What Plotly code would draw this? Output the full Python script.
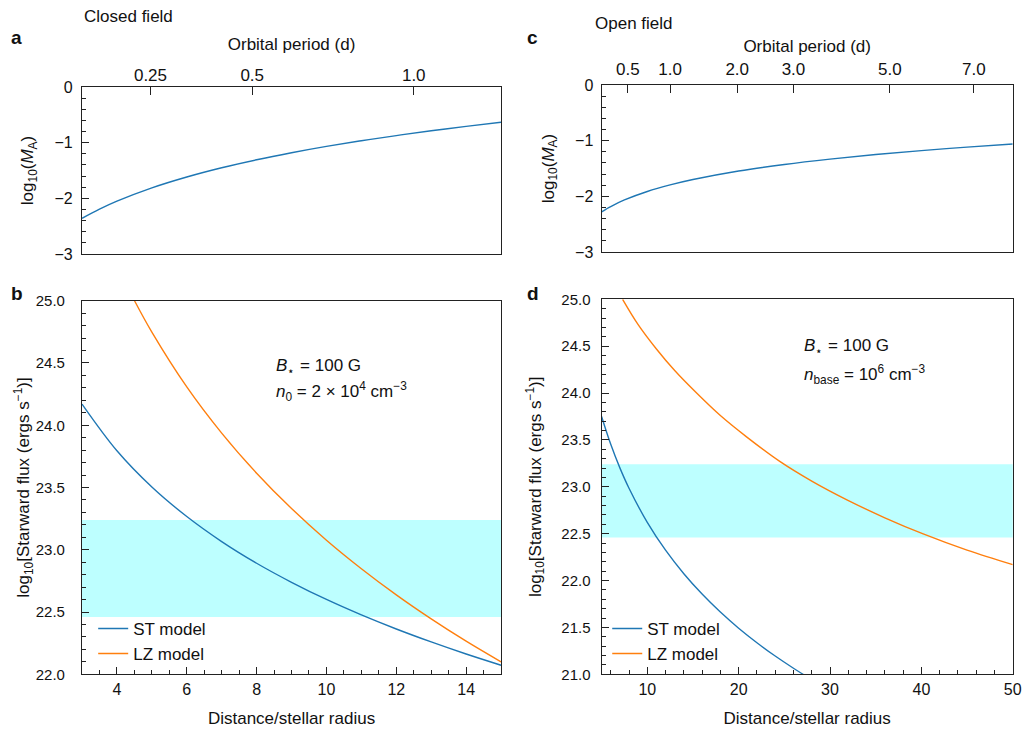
import plotly.graph_objects as go

# ---------------- data ----------------
# Panel a: closed field, log10(M_A) vs distance (stellar radii)
dist_a = [3, 3.5, 4, 5, 6, 7, 8, 9, 10, 11, 12, 13, 14, 15]
logMA_a = [-2.360, -2.195, -2.051, -1.812, -1.617, -1.451, -1.308, -1.182, -1.068,
           -0.966, -0.873, -0.787, -0.708, -0.634]
period_ticks_a = [0.25, 0.5, 1.0]
period_labels_a = ["0.25", "0.5", "1.0"]

# Panel c: open field, log10(M_A) vs distance
dist_c = [5, 5.5, 6, 7.5, 10, 12.5, 15, 20, 25, 30, 35, 40, 45, 50]
logMA_c = [-2.280, -2.229, -2.183, -2.065, -1.913, -1.795, -1.698, -1.545, -1.427,
           -1.331, -1.249, -1.178, -1.116, -1.060]
period_ticks_c = [0.5, 1.0, 2.0, 3.0, 5.0, 7.0]
period_labels_c = ["0.5", "1.0", "2.0", "3.0", "5.0", "7.0"]

# distance (stellar radii) of a 1-day orbit; Kepler: d ∝ P^(2/3)
DIST_1DAY = 12.5

# Panel b: closed field starward flux
dist_b_st = [3, 4, 5, 6, 7, 8, 9, 10, 11, 12, 13, 14, 15]
flux_b_st = [24.170, 23.795, 23.504, 23.267, 23.066, 22.892, 22.739, 22.601, 22.477,
             22.364, 22.260, 22.163, 22.073]
dist_b_lz = [4.5, 5, 6, 7, 8, 9, 10, 11, 12, 13, 14, 15]
flux_b_lz = [25.002, 24.748, 24.308, 23.937, 23.615, 23.331, 23.077, 22.848, 22.638,
             22.445, 22.266, 22.100]

# Panel d: open field starward flux
dist_d_st = [5, 6, 7, 8, 10, 12, 14, 16, 18, 20, 22, 24, 26, 28]
flux_d_st = [23.750, 23.453, 23.202, 22.985, 22.621, 22.324, 22.073, 21.856, 21.664,
             21.492, 21.337, 21.195, 21.065, 20.944]
dist_d_lz = [7.3, 9, 11, 13, 15.4, 18, 20.9, 24.5, 28, 31.85, 36, 40.2, 45, 50]
flux_d_lz = [25.0, 24.73, 24.47, 24.24, 24.0, 23.76, 23.53, 23.271, 23.061, 22.861,
             22.670, 22.498, 22.325, 22.170]

# Observed flux band
band_low, band_high = 22.46, 23.24

# ---------------- styling ----------------
BLUE = "#1f77b4"
ORANGE = "#ff7f0e"
BAND = "#bdffff"
FONT = "Liberation Sans, Arial, Helvetica, sans-serif"
AXC = "#222222"
TXT = "#111111"
LW = 1.4

fig = go.Figure()

def line(x, y, xa, ya, color, name=None, legend=None, show=False):
    fig.add_trace(go.Scatter(
        x=x, y=y, xaxis=xa, yaxis=ya, mode="lines",
        line=dict(color=color, width=LW, shape="spline", smoothing=1.0),
        name=name, showlegend=show, legend=legend, hoverinfo="skip"))

line(dist_a, logMA_a, "x", "y", BLUE)
line(dist_c, logMA_c, "x2", "y2", BLUE)
line(dist_b_st, flux_b_st, "x3", "y3", BLUE, "ST model", "legend", True)
line(dist_b_lz, flux_b_lz, "x3", "y3", ORANGE, "LZ model", "legend", True)
line(dist_d_st, flux_d_st, "x4", "y4", BLUE, "ST model", "legend2", True)
line(dist_d_lz, flux_d_lz, "x4", "y4", ORANGE, "LZ model", "legend2", True)

for xr, yr in (("x3 domain", "y3"), ("x4 domain", "y4")):
    fig.add_shape(type="rect", xref=xr, yref=yr, x0=0, x1=1, y0=band_low, y1=band_high,
                  fillcolor=BAND, line=dict(width=0), layer="below")

xa_dom = [0.0801, 0.4893]
xc_dom = [0.5875, 0.9890]
ya_dom = [0.6516, 0.8807]
yc_dom = [0.6543, 0.8834]
yb_dom = [0.0750, 0.5875]
yd_dom = [0.0750, 0.5894]

def common(size):
    return dict(showline=True, linecolor=AXC, linewidth=1.2, mirror=True, ticks="inside",
                tickcolor=AXC, tickwidth=1.1, showgrid=False, zeroline=False,
                automargin=False, tickfont=dict(family=FONT, size=size, color=TXT))

def title(t, standoff):
    return dict(text=t, font=dict(family=FONT, size=17, color=TXT), standoff=standoff)

def minor(d):
    return dict(dtick=d, ticks="inside", ticklen=4, tickcolor=AXC, tickwidth=1)

MA_TITLE = "log<sub>10</sub>(<i>M</i><sub>A</sub>)"
FLUX_TITLE = "log<sub>10</sub>[Starward flux (ergs s<sup>−1</sup>)]"

fig.update_layout(
    width=1024, height=729, margin=dict(l=0, r=0, t=0, b=0),
    paper_bgcolor="white", plot_bgcolor="white",
    font=dict(family=FONT, color=TXT),
    xaxis=dict(domain=xa_dom, anchor="y", side="top", range=[3, 15],
               tickvals=[DIST_1DAY * p ** (2 / 3) for p in period_ticks_a],
               ticktext=period_labels_a, ticklen=8, ticklabelstandoff=-2,
               title=title("Orbital period (d)", 11), **common(17)),
    yaxis=dict(domain=ya_dom, anchor="x", range=[-3, 0], dtick=1, ticklen=7,
               minor=minor(0.2), title=title(MA_TITLE, 16),
               ticklabelstandoff=5, **common(16)),
    xaxis2=dict(domain=xc_dom, anchor="y2", side="top", range=[5, 50],
                tickvals=[DIST_1DAY * p ** (2 / 3) for p in period_ticks_c],
                ticktext=period_labels_c, ticklen=8, ticklabelstandoff=2,
                title=title("Orbital period (d)", 3), **common(17)),
    yaxis2=dict(domain=yc_dom, anchor="x2", range=[-3, 0], dtick=1, ticklen=7,
                minor=minor(0.2), title=title(MA_TITLE, 16),
                ticklabelstandoff=4, **common(16)),
    xaxis3=dict(domain=xa_dom, anchor="y3", range=[3, 15], tick0=0, dtick=2, ticklen=7,
                minor=minor(0.5), title=title("Distance/stellar radius", 15),
                ticklabelstandoff=0, **common(16)),
    yaxis3=dict(domain=yb_dom, anchor="x3", range=[22, 25], dtick=0.5, tickformat=".1f", ticklen=7,
                minor=minor(0.1), title=title(FLUX_TITLE, 0),
                ticklabelstandoff=13, **common(15)),
    xaxis4=dict(domain=xc_dom, anchor="y4", range=[5, 50], tick0=0, dtick=10, ticklen=7,
                minor=minor(2), title=title("Distance/stellar radius", 15),
                ticklabelstandoff=0, **common(16)),
    yaxis4=dict(domain=yd_dom, anchor="x4", range=[21, 25], dtick=0.5, tickformat=".1f", ticklen=7,
                minor=minor(0.1), title=title(FLUX_TITLE, 15),
                ticklabelstandoff=7, **common(15)),
    legend=dict(x=0.091, y=0.162, xanchor="left", yanchor="top", bgcolor="rgba(0,0,0,0)",
                font=dict(family=FONT, size=17, color=TXT), tracegroupgap=0, itemwidth=30),
    legend2=dict(x=0.593, y=0.162, xanchor="left", yanchor="top", bgcolor="rgba(0,0,0,0)",
                 font=dict(family=FONT, size=17, color=TXT), tracegroupgap=0, itemwidth=30),
)

def note(text, x, y, size=17, bold=False, xanchor="left"):
    fig.add_annotation(text=f"<b>{text}</b>" if bold else text, x=x, y=y, xref="paper", yref="paper",
                       xanchor=xanchor, yanchor="middle", showarrow=False,
                       font=dict(family=FONT, size=size, color=TXT))

note("a", 0.0166, 0.9486, 19, True, "center")
note("b", 0.0166, 0.598, 19, True, "center")
note("c", 0.5205, 0.949, 19, True, "center")
note("d", 0.5205, 0.597, 19, True, "center")
note("Closed field", 0.080, 0.9767, 17)
note("Open field", 0.579, 0.968, 17)
note("<i>B</i><sub>⋆</sub> = 100 G", 0.2676, 0.4966, 17)
note("<i>n</i><sub>0</sub> = 2 × 10<sup>4</sup> cm<sup>−3</sup>", 0.2676, 0.4623, 17)
note("<i>B</i><sub>⋆</sub> = 100 G", 0.783, 0.524, 17)
note("<i>n</i><sub>base</sub> = 10<sup>6</sup> cm<sup>−3</sup>", 0.783, 0.4856, 17)

fig.write_html(
    "out.html",
    config={"displayModeBar": False},
    post_script="document.body.style.margin='0';document.body.style.padding='0';"
                "document.body.style.overflow='hidden';",
)
